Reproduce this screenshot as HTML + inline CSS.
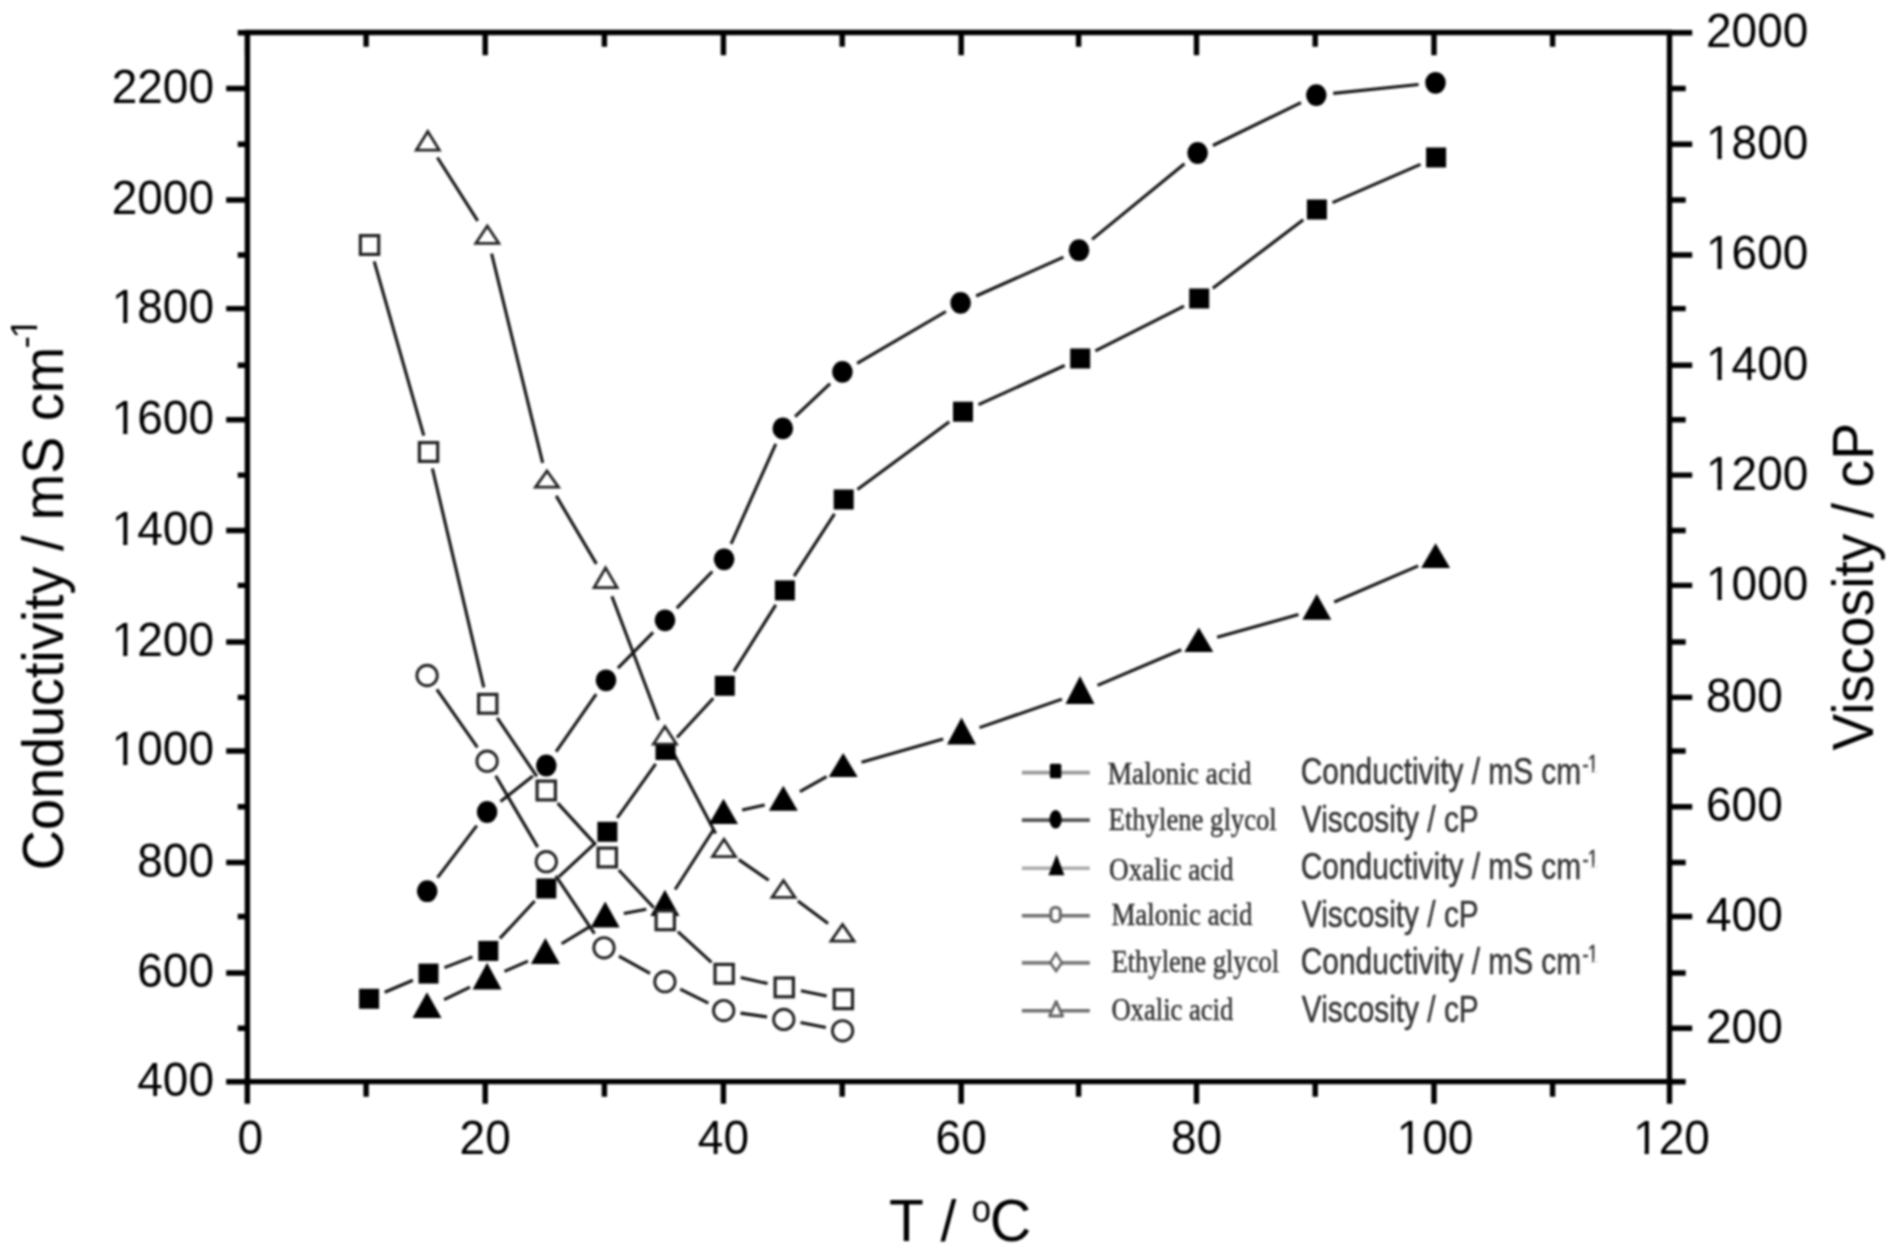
<!DOCTYPE html><html><head><meta charset="utf-8"><style>
html,body{margin:0;padding:0;background:#fff;width:1891px;height:1254px;overflow:hidden}
svg{display:block}  text{font-family:"Liberation Sans",sans-serif}
.ser{font-family:"Liberation Serif",serif}
</style></head><body><div class="wrap">
<svg width="1891" height="1254" viewBox="0 0 1891 1254">
<defs><filter id="bl" x="0" y="0" width="1" height="1" color-interpolation-filters="sRGB"><feGaussianBlur stdDeviation="0.8"/></filter></defs><g filter="url(#bl)">
<rect width="1891" height="1254" fill="#fff"/>
<path d="M384.7 992.2L412.9 980.2M444.4 967.6L472.4 956.9M499.9 938.4L534.7 901.0M558.8 876.9L594.9 843.4M617.2 817.9L655.7 763.9M677.0 737.5L713.3 698.3M733.9 671.4L775.8 604.8M794.1 576.1L834.5 513.8M857.4 489.4L949.3 421.8M978.5 404.7L1064.7 365.5M1095.4 350.8L1184.0 306.2M1212.8 288.2L1303.3 219.8M1332.5 202.7L1420.5 164.3" stroke="#151515" stroke-width="3.1" fill="none"/>
<path d="M437.5 877.6L476.8 825.6M500.5 801.5L532.9 776.0M556.1 751.6L596.2 694.2M617.9 668.2L653.1 632.4M676.8 608.1L712.3 571.5M731.1 543.8L775.8 443.9M795.1 416.7L830.1 383.6M857.1 363.3L945.9 311.5M976.1 296.0L1063.5 257.1M1092.1 239.4L1184.5 163.8M1212.9 145.5L1301.0 102.6M1333.2 93.4L1418.6 84.5" stroke="#151515" stroke-width="3.1" fill="none"/>
<path d="M444.1 999.6L470.0 987.1M504.5 971.3L528.0 961.2M561.6 943.8L589.0 927.1M623.8 913.6L646.3 909.2M675.1 889.5L713.3 830.0M742.1 809.9L764.7 804.9M799.9 791.6L826.6 776.7M861.5 762.3L943.2 739.0M979.5 727.6L1062.0 699.1M1097.5 685.4L1181.3 649.7M1217.1 637.2L1298.5 614.6M1334.2 602.0L1418.2 565.8" stroke="#151515" stroke-width="3.1" fill="none"/>
<path d="M374.2 261.3L423.8 435.7M432.4 468.5L483.8 687.3M497.2 717.9L536.8 776.4M557.7 803.1L595.9 844.9M618.8 870.0L653.8 907.8M677.9 931.7L711.5 962.4M740.7 977.6L767.6 983.6M800.9 990.7L826.7 995.9" stroke="#151515" stroke-width="3.1" fill="none"/>
<path d="M436.8 689.4L477.4 747.3M495.7 775.8L537.7 847.1M555.8 875.8L594.5 933.7M618.9 956.1L650.0 973.4M680.2 989.2L708.4 1003.1M740.5 1013.1L767.0 1016.9M800.5 1022.6L825.9 1027.6" stroke="#151515" stroke-width="3.1" fill="none"/>
<path d="M437.4 157.5L477.7 220.9M491.6 253.6L542.7 462.9M556.2 495.9L596.4 563.9M611.9 596.3L658.6 720.0M673.3 752.8L715.6 833.5M738.8 859.6L768.7 880.2M797.9 901.1L828.1 923.5" stroke="#151515" stroke-width="3.1" fill="none"/>
<rect x="359.1" y="988.8" width="20.0" height="20.0" fill="#000"/>
<rect x="418.5" y="963.6" width="20.0" height="20.0" fill="#000"/>
<rect x="478.3" y="940.9" width="20.0" height="20.0" fill="#000"/>
<rect x="536.3" y="878.5" width="20.0" height="20.0" fill="#000"/>
<rect x="597.4" y="821.8" width="20.0" height="20.0" fill="#000"/>
<rect x="655.5" y="740.0" width="20.0" height="20.0" fill="#000"/>
<rect x="714.8" y="675.8" width="20.0" height="20.0" fill="#000"/>
<rect x="774.9" y="580.4" width="20.0" height="20.0" fill="#000"/>
<rect x="833.7" y="489.5" width="20.0" height="20.0" fill="#000"/>
<rect x="953.0" y="401.7" width="20.0" height="20.0" fill="#000"/>
<rect x="1070.2" y="348.5" width="20.0" height="20.0" fill="#000"/>
<rect x="1189.2" y="288.5" width="20.0" height="20.0" fill="#000"/>
<rect x="1306.9" y="199.5" width="20.0" height="20.0" fill="#000"/>
<rect x="1426.1" y="147.5" width="20.0" height="20.0" fill="#000"/>
<ellipse cx="427.2" cy="891.2" rx="10.3" ry="10.9" fill="#000"/>
<ellipse cx="487.1" cy="812.0" rx="10.3" ry="10.9" fill="#000"/>
<ellipse cx="546.3" cy="765.5" rx="10.3" ry="10.9" fill="#000"/>
<ellipse cx="606.0" cy="680.3" rx="10.3" ry="10.9" fill="#000"/>
<ellipse cx="665.0" cy="620.3" rx="10.3" ry="10.9" fill="#000"/>
<ellipse cx="724.1" cy="559.3" rx="10.3" ry="10.9" fill="#000"/>
<ellipse cx="782.8" cy="428.4" rx="10.3" ry="10.9" fill="#000"/>
<ellipse cx="842.4" cy="371.9" rx="10.3" ry="10.9" fill="#000"/>
<ellipse cx="960.6" cy="302.9" rx="10.3" ry="10.9" fill="#000"/>
<ellipse cx="1079.0" cy="250.2" rx="10.3" ry="10.9" fill="#000"/>
<ellipse cx="1197.6" cy="153.0" rx="10.3" ry="10.9" fill="#000"/>
<ellipse cx="1316.3" cy="95.1" rx="10.3" ry="10.9" fill="#000"/>
<ellipse cx="1435.5" cy="82.8" rx="10.3" ry="10.9" fill="#000"/>
<path d="M427.0 992.2L441.5 1018.1L412.5 1018.1Z" fill="#000"/>
<path d="M487.1 962.7L501.6 989.4L472.6 989.4Z" fill="#000"/>
<path d="M545.4 938.0L559.9 963.9L530.9 963.9Z" fill="#000"/>
<path d="M605.2 901.6L619.7 927.4L590.7 927.4Z" fill="#000"/>
<path d="M664.9 889.7L679.4 915.9L650.4 915.9Z" fill="#000"/>
<path d="M723.5 798.8L738.0 823.9L709.0 823.9Z" fill="#000"/>
<path d="M783.3 785.7L797.8 810.8L768.8 810.8Z" fill="#000"/>
<path d="M843.2 753.1L857.7 776.9L828.7 776.9Z" fill="#000"/>
<path d="M961.5 717.6L976.0 744.4L947.0 744.4Z" fill="#000"/>
<path d="M1080.0 676.1L1094.5 703.9L1065.5 703.9Z" fill="#000"/>
<path d="M1198.8 627.4L1213.3 651.9L1184.3 651.9Z" fill="#000"/>
<path d="M1316.8 593.9L1331.3 619.8L1302.3 619.8Z" fill="#000"/>
<path d="M1435.6 543.3L1450.1 568.0L1421.1 568.0Z" fill="#000"/>
<rect x="360.4" y="235.6" width="18.3" height="18.8" fill="#fff" stroke="#222" stroke-width="3.2"/>
<rect x="419.4" y="442.6" width="18.3" height="18.8" fill="#fff" stroke="#222" stroke-width="3.2"/>
<rect x="478.6" y="694.4" width="18.3" height="18.8" fill="#fff" stroke="#222" stroke-width="3.2"/>
<rect x="537.1" y="781.1" width="18.3" height="18.8" fill="#fff" stroke="#222" stroke-width="3.2"/>
<rect x="598.1" y="848.1" width="18.3" height="18.8" fill="#fff" stroke="#222" stroke-width="3.2"/>
<rect x="656.1" y="910.9" width="18.3" height="18.8" fill="#fff" stroke="#222" stroke-width="3.2"/>
<rect x="715.0" y="964.4" width="18.3" height="18.8" fill="#fff" stroke="#222" stroke-width="3.2"/>
<rect x="775.1" y="978.0" width="18.3" height="18.8" fill="#fff" stroke="#222" stroke-width="3.2"/>
<rect x="834.2" y="989.8" width="18.3" height="18.8" fill="#fff" stroke="#222" stroke-width="3.2"/>
<circle cx="427.1" cy="675.5" r="10.2" fill="#fff" stroke="#222" stroke-width="2.9"/>
<circle cx="487.1" cy="761.2" r="10.2" fill="#fff" stroke="#222" stroke-width="2.9"/>
<circle cx="546.3" cy="861.7" r="10.2" fill="#fff" stroke="#222" stroke-width="2.9"/>
<circle cx="604.0" cy="947.8" r="10.2" fill="#fff" stroke="#222" stroke-width="2.9"/>
<circle cx="664.9" cy="981.7" r="10.2" fill="#fff" stroke="#222" stroke-width="2.9"/>
<circle cx="723.7" cy="1010.6" r="10.2" fill="#fff" stroke="#222" stroke-width="2.9"/>
<circle cx="783.8" cy="1019.4" r="10.2" fill="#fff" stroke="#222" stroke-width="2.9"/>
<circle cx="842.6" cy="1030.8" r="10.2" fill="#fff" stroke="#222" stroke-width="2.9"/>
<path d="M427.8 131.4L439.3 150.1L416.3 150.1Z" fill="#fff" stroke="#222" stroke-width="2.8" stroke-linejoin="miter"/>
<path d="M487.3 226.0L498.8 243.3L475.8 243.3Z" fill="#fff" stroke="#222" stroke-width="2.8" stroke-linejoin="miter"/>
<path d="M547.0 471.0L558.5 487.1L535.5 487.1Z" fill="#fff" stroke="#222" stroke-width="2.8" stroke-linejoin="miter"/>
<path d="M605.6 567.9L617.1 587.6L594.1 587.6Z" fill="#fff" stroke="#222" stroke-width="2.8" stroke-linejoin="miter"/>
<path d="M664.9 726.6L676.4 744.1L653.4 744.1Z" fill="#fff" stroke="#222" stroke-width="2.8" stroke-linejoin="miter"/>
<path d="M724.0 839.3L735.5 856.6L712.5 856.6Z" fill="#fff" stroke="#222" stroke-width="2.8" stroke-linejoin="miter"/>
<path d="M783.5 880.5L795.0 897.4L772.0 897.4Z" fill="#fff" stroke="#222" stroke-width="2.8" stroke-linejoin="miter"/>
<path d="M842.5 924.4L854.0 941.2L831.0 941.2Z" fill="#fff" stroke="#222" stroke-width="2.8" stroke-linejoin="miter"/>
<path d="M247.4 32.5H1669.5V1081.6H247.4ZM247.3 1081.6V1101.1M247.3 32.5V52.5M366.1 1081.6V1094.1M366.1 32.5V44.0M485.2 1081.6V1101.1M485.2 32.5V52.5M604.4 1081.6V1094.1M604.4 32.5V44.0M723.4 1081.6V1101.1M723.4 32.5V52.5M842.2 1081.6V1094.1M842.2 32.5V44.0M961.2 1081.6V1101.1M961.2 32.5V52.5M1078.6 1081.6V1094.1M1078.6 32.5V44.0M1196.5 1081.6V1101.1M1196.5 32.5V52.5M1315.2 1081.6V1094.1M1315.2 32.5V44.0M1434.0 1081.6V1101.1M1434.0 32.5V52.5M1552.6 1081.6V1094.1M1552.6 32.5V44.0M1669.5 1081.6V1101.1M1669.5 32.5V52.5M247.4 1081.7H228.9M247.4 1028.2H240.4M247.4 973.0H228.9M247.4 916.5H240.4M247.4 862.5H228.9M247.4 806.7H240.4M247.4 751.0H228.9M247.4 697.4H240.4M247.4 642.0H228.9M247.4 585.4H240.4M247.4 530.5H228.9M247.4 475.1H240.4M247.4 419.8H228.9M247.4 365.3H240.4M247.4 308.6H228.9M247.4 255.0H240.4M247.4 200.0H228.9M247.4 144.3H240.4M247.4 88.5H228.9M247.4 32.7H240.4M1669.5 1081.7H1683.0M1669.5 1028.2H1689.5M1669.5 973.0H1683.0M1669.5 916.5H1689.5M1669.5 862.5H1683.0M1669.5 806.7H1689.5M1669.5 751.0H1683.0M1669.5 697.4H1689.5M1669.5 642.0H1683.0M1669.5 585.4H1689.5M1669.5 530.5H1683.0M1669.5 475.1H1689.5M1669.5 419.8H1683.0M1669.5 365.3H1689.5M1669.5 308.6H1683.0M1669.5 255.0H1689.5M1669.5 200.0H1683.0M1669.5 144.3H1689.5M1669.5 88.5H1683.0M1669.5 32.7H1689.5" stroke="#000" stroke-width="5.4" fill="none" stroke-linecap="square"/>
<g transform="translate(137.25,1096.10) scale(1,1.040)"><text x="0" y="0" font-size="46">400</text></g>
<g transform="translate(137.25,987.40) scale(1,1.040)"><text x="0" y="0" font-size="46">600</text></g>
<g transform="translate(137.25,876.90) scale(1,1.040)"><text x="0" y="0" font-size="46">800</text></g>
<g transform="translate(111.67,765.40) scale(1,1.040)"><text x="0" y="0" font-size="46">1000</text><rect x="2.47" y="-4.44" width="9.03" height="5.44" fill="#fff"/><rect x="15.72" y="-4.44" width="8.76" height="5.44" fill="#fff"/></g>
<g transform="translate(111.67,656.40) scale(1,1.040)"><text x="0" y="0" font-size="46">1200</text><rect x="2.47" y="-4.44" width="9.03" height="5.44" fill="#fff"/><rect x="15.72" y="-4.44" width="8.76" height="5.44" fill="#fff"/></g>
<g transform="translate(111.67,544.90) scale(1,1.040)"><text x="0" y="0" font-size="46">1400</text><rect x="2.47" y="-4.44" width="9.03" height="5.44" fill="#fff"/><rect x="15.72" y="-4.44" width="8.76" height="5.44" fill="#fff"/></g>
<g transform="translate(111.67,434.20) scale(1,1.040)"><text x="0" y="0" font-size="46">1600</text><rect x="2.47" y="-4.44" width="9.03" height="5.44" fill="#fff"/><rect x="15.72" y="-4.44" width="8.76" height="5.44" fill="#fff"/></g>
<g transform="translate(111.67,323.00) scale(1,1.040)"><text x="0" y="0" font-size="46">1800</text><rect x="2.47" y="-4.44" width="9.03" height="5.44" fill="#fff"/><rect x="15.72" y="-4.44" width="8.76" height="5.44" fill="#fff"/></g>
<g transform="translate(111.67,214.40) scale(1,1.040)"><text x="0" y="0" font-size="46">2000</text></g>
<g transform="translate(111.67,102.90) scale(1,1.040)"><text x="0" y="0" font-size="46">2200</text></g>
<g transform="translate(1706.00,1042.60) scale(1,1.040)"><text x="0" y="0" font-size="46">200</text></g>
<g transform="translate(1706.00,930.90) scale(1,1.040)"><text x="0" y="0" font-size="46">400</text></g>
<g transform="translate(1706.00,821.10) scale(1,1.040)"><text x="0" y="0" font-size="46">600</text></g>
<g transform="translate(1706.00,711.80) scale(1,1.040)"><text x="0" y="0" font-size="46">800</text></g>
<g transform="translate(1706.00,599.80) scale(1,1.040)"><text x="0" y="0" font-size="46">1000</text><rect x="2.47" y="-4.44" width="9.03" height="5.44" fill="#fff"/><rect x="15.72" y="-4.44" width="8.76" height="5.44" fill="#fff"/></g>
<g transform="translate(1706.00,489.50) scale(1,1.040)"><text x="0" y="0" font-size="46">1200</text><rect x="2.47" y="-4.44" width="9.03" height="5.44" fill="#fff"/><rect x="15.72" y="-4.44" width="8.76" height="5.44" fill="#fff"/></g>
<g transform="translate(1706.00,379.70) scale(1,1.040)"><text x="0" y="0" font-size="46">1400</text><rect x="2.47" y="-4.44" width="9.03" height="5.44" fill="#fff"/><rect x="15.72" y="-4.44" width="8.76" height="5.44" fill="#fff"/></g>
<g transform="translate(1706.00,269.40) scale(1,1.040)"><text x="0" y="0" font-size="46">1600</text><rect x="2.47" y="-4.44" width="9.03" height="5.44" fill="#fff"/><rect x="15.72" y="-4.44" width="8.76" height="5.44" fill="#fff"/></g>
<g transform="translate(1706.00,158.70) scale(1,1.040)"><text x="0" y="0" font-size="46">1800</text><rect x="2.47" y="-4.44" width="9.03" height="5.44" fill="#fff"/><rect x="15.72" y="-4.44" width="8.76" height="5.44" fill="#fff"/></g>
<g transform="translate(1706.00,47.10) scale(1,1.040)"><text x="0" y="0" font-size="46">2000</text></g>
<g transform="translate(237.51,1154.00) scale(1,1.040)"><text x="0" y="0" font-size="46">0</text></g>
<g transform="translate(459.62,1154.00) scale(1,1.040)"><text x="0" y="0" font-size="46">20</text></g>
<g transform="translate(697.82,1154.00) scale(1,1.040)"><text x="0" y="0" font-size="46">40</text></g>
<g transform="translate(935.62,1154.00) scale(1,1.040)"><text x="0" y="0" font-size="46">60</text></g>
<g transform="translate(1170.92,1154.00) scale(1,1.040)"><text x="0" y="0" font-size="46">80</text></g>
<g transform="translate(1396.63,1154.00) scale(1,1.040)"><text x="0" y="0" font-size="46">100</text><rect x="2.47" y="-4.44" width="9.03" height="5.44" fill="#fff"/><rect x="15.72" y="-4.44" width="8.76" height="5.44" fill="#fff"/></g>
<g transform="translate(1633.13,1154.00) scale(1,1.040)"><text x="0" y="0" font-size="46">120</text><rect x="2.47" y="-4.44" width="9.03" height="5.44" fill="#fff"/><rect x="15.72" y="-4.44" width="8.76" height="5.44" fill="#fff"/></g>
<text transform="translate(889,1241.2) scale(1,1.025)" font-size="57">T </text>
<text transform="translate(940.6,1241.2)" font-size="57">/ </text>
<text transform="translate(971.5,1221.8) scale(0.9,1)" font-size="39">o</text>
<text transform="translate(989.8,1241.2) scale(1.01,1.025)" font-size="57">C</text>
<g transform="translate(63.1,870.3) rotate(-90)">
<text transform="scale(0.97,1)" font-size="57.5">Conductivity / mS cm</text>
<text x="521.8" y="-26.3" font-size="37.5">-</text>
<text x="531.7" y="-26.3" font-size="37.5">1</text>
<rect x="533.71" y="-30.10" width="7.36" height="4.80" fill="#fff"/><rect x="544.52" y="-30.10" width="7.14" height="4.80" fill="#fff"/>
</g>
<text transform="translate(1873.4,750.6) rotate(-90) scale(0.97,1)" font-size="57">Viscosity / cP</text>
<path d="M1021.9 772.6H1089.8" stroke="#9a9a9a" stroke-width="3.6"/>
<rect x="1049.9" y="763.8" width="11.4" height="14.5" rx="1.5" fill="#000"/>
<text class="ser" transform="translate(1107.8,783.7) scale(0.855,1)" font-size="32" fill="#333" stroke="#333" stroke-width="0.5">Malonic acid</text>
<g transform="translate(1300.8,784.3) scale(0.807,1)">
<text font-size="37" fill="#333" stroke="#333" stroke-width="0.5">Conductivity / mS cm</text>
<text x="349" y="-12.8" font-size="23" fill="#333" stroke="#333" stroke-width="0.5">-</text>
<text x="355.5" y="-12.8" font-size="23" fill="#333" stroke="#333" stroke-width="0.5">1</text>
<rect x="356.74" y="-15.52" width="4.51" height="3.72" fill="#fff"/><rect x="363.36" y="-15.52" width="4.38" height="3.72" fill="#fff"/>
</g>
<path d="M1021.9 820.1H1089.8" stroke="#555555" stroke-width="3.6"/>
<ellipse cx="1055.6" cy="819.3" rx="6.1" ry="9.3" fill="#000"/>
<text class="ser" transform="translate(1108.6,829.6) scale(0.834,1)" font-size="32" fill="#333" stroke="#333" stroke-width="0.5">Ethylene glycol</text>
<text transform="translate(1301.8,831.8) scale(0.807,1)" font-size="37" fill="#333" stroke="#333" stroke-width="0.5">Viscosity / cP</text>
<path d="M1021.9 868.3H1089.8" stroke="#ababab" stroke-width="3.6"/>
<path d="M1056.6 854.5L1064.4 875.3L1048.4 875.3Z" fill="#000"/>
<text class="ser" transform="translate(1109.0,879.6) scale(0.850,1)" font-size="32" fill="#333" stroke="#333" stroke-width="0.5">Oxalic acid</text>
<g transform="translate(1300.8,879.3) scale(0.807,1)">
<text font-size="37" fill="#333" stroke="#333" stroke-width="0.5">Conductivity / mS cm</text>
<text x="349" y="-12.8" font-size="23" fill="#333" stroke="#333" stroke-width="0.5">-</text>
<text x="355.5" y="-12.8" font-size="23" fill="#333" stroke="#333" stroke-width="0.5">1</text>
<rect x="356.74" y="-15.52" width="4.51" height="3.72" fill="#fff"/><rect x="363.36" y="-15.52" width="4.38" height="3.72" fill="#fff"/>
</g>
<path d="M1021.9 915.7H1089.8" stroke="#707070" stroke-width="3.6"/>
<rect x="1050.9" y="907.4" width="9.4" height="14.2" rx="4" fill="#fff" stroke="#666" stroke-width="3"/>
<text class="ser" transform="translate(1111.4,925.2) scale(0.840,1)" font-size="32" fill="#333" stroke="#333" stroke-width="0.5">Malonic acid</text>
<text transform="translate(1301.8,926.8) scale(0.807,1)" font-size="37" fill="#333" stroke="#333" stroke-width="0.5">Viscosity / cP</text>
<path d="M1021.9 962.9H1089.8" stroke="#7a7a7a" stroke-width="3.6"/>
<path d="M1056.1 953.5L1061.9 962.6L1056.1 971.0L1050.3 962.6Z" fill="#fff" stroke="#666" stroke-width="2.6"/>
<text class="ser" transform="translate(1111.4,972.0) scale(0.832,1)" font-size="32" fill="#333" stroke="#333" stroke-width="0.5">Ethylene glycol</text>
<g transform="translate(1300.8,974.3) scale(0.807,1)">
<text font-size="37" fill="#333" stroke="#333" stroke-width="0.5">Conductivity / mS cm</text>
<text x="349" y="-12.8" font-size="23" fill="#333" stroke="#333" stroke-width="0.5">-</text>
<text x="355.5" y="-12.8" font-size="23" fill="#333" stroke="#333" stroke-width="0.5">1</text>
<rect x="356.74" y="-15.52" width="4.51" height="3.72" fill="#fff"/><rect x="363.36" y="-15.52" width="4.38" height="3.72" fill="#fff"/>
</g>
<path d="M1021.9 1010.7H1089.8" stroke="#707070" stroke-width="3.6"/>
<path d="M1056.1 1001.5L1062.6 1016.0L1049.6 1016.0Z" fill="#fff" stroke="#666" stroke-width="3" stroke-linejoin="round"/>
<text class="ser" transform="translate(1111.4,1020.4) scale(0.832,1)" font-size="32" fill="#333" stroke="#333" stroke-width="0.5">Oxalic acid</text>
<text transform="translate(1301.8,1021.8) scale(0.807,1)" font-size="37" fill="#333" stroke="#333" stroke-width="0.5">Viscosity / cP</text>
</g></svg></div></body></html>
